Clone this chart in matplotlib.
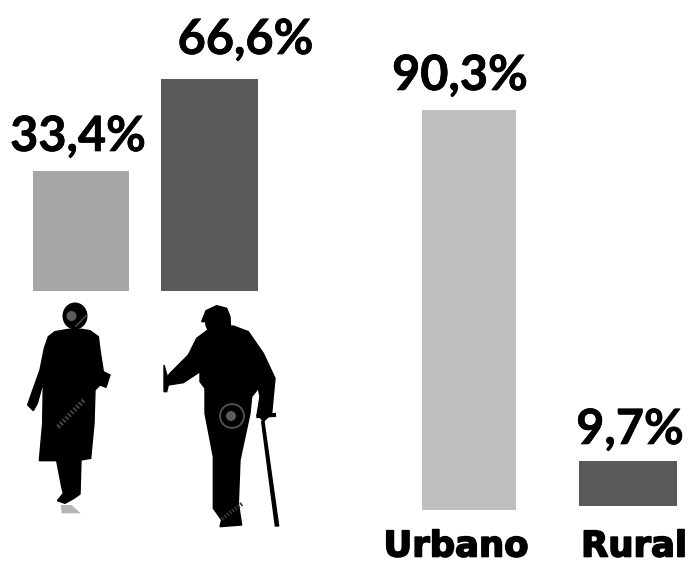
import numpy as np
import matplotlib
matplotlib.use("Agg")
import matplotlib.pyplot as plt
from matplotlib.patches import Ellipse, Polygon
import matplotlib.patheffects as pe

W, H = 691, 563

# bars (heights are in picture units, the drawing is not to scale)
gender_labels = ["33,4%", "66,6%"]
gender_heights = [120, 212]
gender_colors = ["#a6a6a6", "#5a5a5a"]

area_names = ["Urbano", "Rural"]
area_labels = ["90,3%", "9,7%"]
area_heights = [400, 45]
area_bottoms = [0, 4]
area_widths = [0.59, 0.62]
area_colors = ["#bfbfbf", "#5a5a5a"]

woman = [(205,118),(165,125),(145,140),(133,175),(120,240),(95,310),(83,345),(100,362),(112,340),(130,275),
         (128,400),(118,512),(170,512),(185,590),(190,610),(172,632),(195,640),(222,625),(240,612),
         (243,510),(272,505),(282,400),(285,300),(300,285),(318,292),(330,255),(310,245),(300,180),
         (295,140),(270,122),(245,118)]
woman_shadow = [(182,645),(215,645),(242,670),(185,670)]
man = [(630,115),(590,145),(565,195),(510,250),(495,270),(505,285),(550,278),(600,245),(600,275),
       (615,295),(615,370),(640,500),(640,655),(665,690),(660,710),(725,705),(715,640),(720,510),
       (750,370),(755,320),(775,295),(780,320),(772,370),(790,395),(815,370),(825,265),(790,190),
       (745,125),(700,108)]
man_cap = [(605,95),(618,62),(650,47),(680,55),(690,80),(692,120),(640,130),(622,95)]
man_cane = [(785,395),(792,395),(836,708),(826,708)]
man_stick = [(492,225),(502,260),(505,285),(500,305),(492,305)]


def px_axes(fig, left, right, top, bottom):
    return fig.add_axes([left / W, 1 - bottom / H, (right - left) / W, (bottom - top) / H])


def crop(points):
    return [(x / 3, 290 + y / 3) for x, y in points]


fig = plt.figure(figsize=(W / 100, H / 100), dpi=100, facecolor="white")
label_font = dict(family="Lato", fontweight="bold", fontsize=35, color="black", ha="center", va="bottom",
                  path_effects=[pe.withStroke(linewidth=0.5, foreground="black")])

# left group
ax1 = px_axes(fig, 0, 345, 0, 291)
ax1.bar([0, 1], gender_heights, width=0.75, color=gender_colors)
ax1.set_xlim(-81 / 128.5, (345 - 81) / 128.5)
ax1.set_ylim(0, 291)
ax1.axis("off")
ax1.annotate(gender_labels[0], (0, gender_heights[0]), xytext=(-3, 12), textcoords="offset pixels", **label_font)
ax1.annotate(gender_labels[1], (1, gender_heights[1]), xytext=(36, 17), textcoords="offset pixels", **label_font)

# right group
ax2 = px_axes(fig, 345, 691, 0, 510)
ax2.bar([0, 1], area_heights, width=area_widths, bottom=area_bottoms, color=area_colors)
ax2.set_xlim((345 - 469) / 159, (691 - 469) / 159)
ax2.set_ylim(0, 510)
ax2.axis("off")
ax2.annotate(area_labels[0], (0, area_heights[0] + area_bottoms[0]), xytext=(-9, 12), textcoords="offset pixels", **label_font)
ax2.annotate(area_labels[1], (1, area_heights[1] + area_bottoms[1]), xytext=(2, 9), textcoords="offset pixels", **label_font)

# silhouettes and names, in picture pixels
ov = fig.add_axes([0, 0, 1, 1])
ov.set_xlim(0, W)
ov.set_ylim(H, 0)
ov.axis("off")
ov.patch.set_alpha(0)

for shape in [woman, man, man_cap, man_cane, man_stick]:
    ov.add_patch(Polygon(crop(shape), closed=True, fc="black", ec="black", lw=1))
ov.add_patch(Polygon(crop(woman_shadow), closed=True, fc="#b5b5b5", ec="none"))
ov.add_patch(Ellipse((75, 316), 25, 27, fc="black"))
ov.add_patch(Ellipse((71.5, 316), 10, 10, fc="#5c5c5c"))
ov.plot([58, 84], [427, 400], color="#444444", lw=3.5, ls=(0, (0.4, 0.4)))
ov.plot([76, 86], [326, 316], color="#444444", lw=1.2)
ov.add_patch(Ellipse((217, 322), 24, 26, fc="black"))
ov.plot(*zip(*crop([(775,378),(822,375)])), color="black", lw=3)
ov.add_patch(Ellipse((232, 416), 24, 24, fc="none", ec="#555555", lw=1.3))
ov.add_patch(Ellipse((231, 416), 10, 10, fc="#5c5c5c"))
ov.plot([222, 243], [519, 503], color="#333333", lw=3, ls=(0, (0.4, 0.4)))

xs = [456, 634]
for x, name in zip(xs, area_names):
    ov.text(x, 546.5, name, family="DejaVu Sans", fontweight="bold", fontsize=25.5, color="black",
            ha="center", va="center", path_effects=[pe.withStroke(linewidth=1.2, foreground="black")])

fig.savefig("out.png", dpi=100)
